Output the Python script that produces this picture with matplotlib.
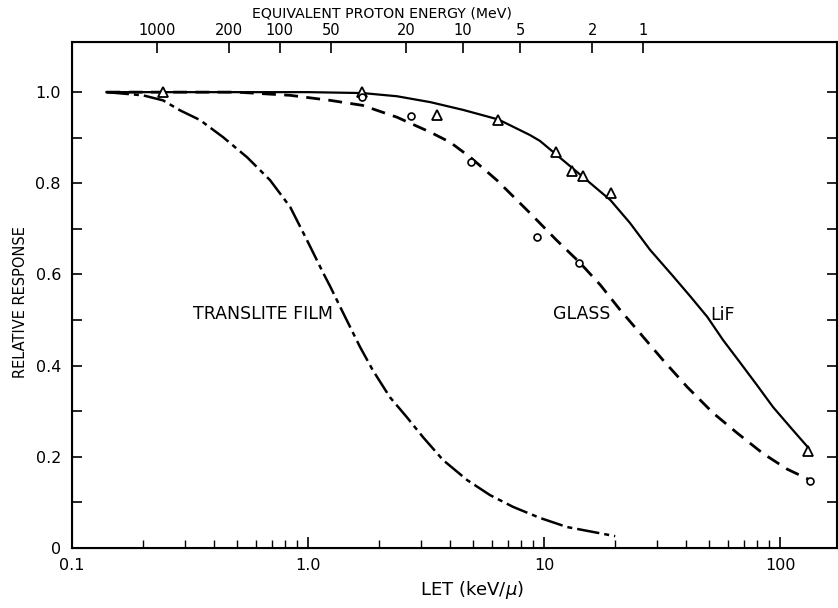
import matplotlib
matplotlib.use("Agg")
import matplotlib.pyplot as plt
from matplotlib.ticker import FixedLocator, NullFormatter

# LET (keV/micron) vs relative response
lif_let = [0.14, 0.5, 1.0, 1.7, 2.38, 3.3, 4.54, 6.4, 8.7, 9.6, 11.2, 14.6, 19.1, 23.1, 28.1,
           35.2, 41.6, 49.1, 57.3, 67.8, 79.8, 93.3, 113, 131]
lif_resp = [1.0, 1.0, 1.0, 0.998, 0.991, 0.978, 0.961, 0.94, 0.906, 0.893, 0.864, 0.814, 0.763, 0.713, 0.654,
            0.596, 0.552, 0.507, 0.456, 0.406, 0.357, 0.309, 0.259, 0.221]

glass_let = [0.14, 0.5, 0.84, 1.24, 1.7, 2.38, 3.3, 4.0, 4.87, 6.3, 8.7, 11.3, 14.1, 17.3, 21.0,
             25.5, 31.9, 40.4, 52.0, 65.8, 84.7, 107, 134]
glass_resp = [1.0, 1.0, 0.993, 0.982, 0.971, 0.945, 0.912, 0.89, 0.857, 0.807, 0.735, 0.675, 0.627, 0.577, 0.522,
              0.471, 0.412, 0.353, 0.296, 0.252, 0.207, 0.173, 0.149]

film_let = [0.14, 0.2, 0.243, 0.287, 0.348, 0.437, 0.552, 0.69, 0.84, 0.99, 1.16, 1.24, 1.41, 1.66, 1.88,
            2.22, 2.62, 3.07, 3.73, 4.72, 5.9, 7.4, 9.6, 12.5, 20.0]
film_resp = [1.0, 0.993, 0.982, 0.96, 0.939, 0.901, 0.857, 0.807, 0.748, 0.675, 0.603, 0.574, 0.515, 0.441, 0.39,
             0.331, 0.287, 0.243, 0.193, 0.149, 0.116, 0.090, 0.066, 0.046, 0.026]

# measured points
tri_let = [0.243, 1.69, 3.52, 6.38, 11.2, 13.1, 14.6, 19.2, 131]
tri_resp = [1.0, 1.0, 0.95, 0.939, 0.868, 0.827, 0.816, 0.778, 0.213]
circ_let = [1.69, 2.73, 4.91, 9.33, 14.1, 134]
circ_resp = [0.99, 0.947, 0.846, 0.682, 0.625, 0.147]

# top axis: equivalent proton energy, placed at matching LET
proton_labels = ["1000", "200", "100", "50", "20", "10", "5", "2", "1"]
proton_let = [0.229, 0.462, 0.76, 1.25, 2.6, 4.54, 7.9, 16.0, 26.2]

fig = plt.figure(figsize=(8.38, 6.08), dpi=100)
ax = fig.add_axes([72 / 838, 60 / 608, 765 / 838, 506 / 608])

ax.plot(lif_let, lif_resp, color="black", lw=1.6, solid_joinstyle="round")
ax.plot(glass_let, glass_resp, color="black", lw=2.0, linestyle=(0, (5, 3)))
ax.plot(film_let, film_resp, color="black", lw=1.8, linestyle=(0, (9, 2, 2, 2)))

ax.plot(tri_let, tri_resp, linestyle="none", marker="^", markersize=7,
        markerfacecolor="white", markeredgecolor="black", markeredgewidth=1.3)
ax.plot(circ_let, circ_resp, linestyle="none", marker="o", markersize=5,
        markerfacecolor="white", markeredgecolor="black", markeredgewidth=1.2)

ax.set_xscale("log")
ax.set_xlim(0.1, 174)
ax.set_ylim(0, 1.11)

ax.xaxis.set_major_locator(FixedLocator([0.1, 1, 10, 100]))
ax.set_xticklabels(["0.1", "1.0", "10", "100"])
ax.xaxis.set_minor_locator(FixedLocator([m * d for d in [0.1, 1, 10, 100] for m in range(2, 10)]))
ax.xaxis.set_minor_formatter(NullFormatter())

ax.set_yticks([0, 0.2, 0.4, 0.6, 0.8, 1.0])
ax.set_yticklabels(["0", "0.2", "0.4", "0.6", "0.8", "1.0"])
ax.set_yticks([0.1, 0.3, 0.5, 0.7, 0.9], minor=True)

ax.tick_params(axis="x", which="major", direction="in", length=8, width=1.2,
               labelsize=11.5, pad=7, top=False)
ax.tick_params(axis="x", which="minor", direction="in", length=6, width=1.0, top=False)
ax.tick_params(axis="y", which="both", direction="in", length=7, width=1.2,
               labelsize=11.5, pad=8, right=True)

for s in ax.spines.values():
    s.set_linewidth(1.5)

ax2 = ax.twiny()
ax2.set_xscale("log")
ax2.set_xlim(ax.get_xlim())
ax2.xaxis.set_major_locator(FixedLocator(proton_let))
ax2.set_xticklabels(proton_labels)
ax2.xaxis.set_minor_locator(FixedLocator([]))
ax2.tick_params(axis="x", which="major", direction="in", length=8, width=1.2,
                labelsize=10.5, pad=3)

fig.text(0.456, 0.978, "EQUIVALENT PROTON ENERGY (MeV)", ha="center", va="center", fontsize=10.2)
fig.text(0.563, 0.03, "LET (keV/$\\mu$)", ha="center", va="center", fontsize=13)
fig.text(0.024, 0.503, "RELATIVE RESPONSE", ha="center", va="center", rotation=90, fontsize=10.5)

ax.text(1.28, 0.513, "TRANSLITE FILM", ha="right", va="center", fontsize=12.5)
ax.text(19.0, 0.513, "GLASS", ha="right", va="center", fontsize=12.5)
ax.text(50.5, 0.511, "LiF", ha="left", va="center", fontsize=12.5)

fig.savefig("out.png", dpi=100)
